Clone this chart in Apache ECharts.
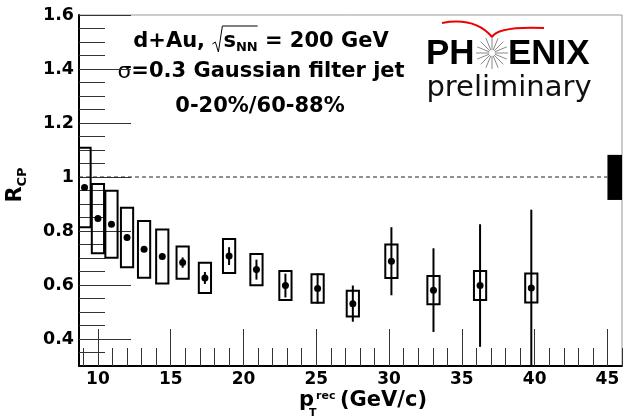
<!DOCTYPE html>
<html>
<head>
<meta charset="utf-8">
<script src="https://cdn.jsdelivr.net/npm/echarts@6.0.0/dist/echarts.min.js"></script>
<style>
html, body { margin: 0; padding: 0; background: #fff; }
#chart { width: 623px; height: 419px; }
</style>
</head>
<body>
<div id="chart"></div>
<script type="text/javascript">
// R_CP vs reconstructed jet pT, d+Au 200 GeV (PHENIX preliminary)
var ptRec   = [9.08, 10.0, 10.93, 12.0, 13.17, 14.42, 15.82, 17.35, 19.01, 20.89, 22.88, 25.09, 27.51, 30.16, 33.05, 36.25, 39.77];
var rcp     = [0.961, 0.846, 0.825, 0.776, 0.732, 0.706, 0.683, 0.626, 0.707, 0.657, 0.598, 0.587, 0.531, 0.688, 0.581, 0.598, 0.589];
var statErr = [0.005, 0.006, 0.007, 0.008, 0.009, 0.010, 0.019, 0.022, 0.033, 0.037, 0.044, 0.056, 0.067, 0.126, 0.155, 0.227, 0.29];
var sysErr  = [0.147, 0.128, 0.124, 0.110, 0.105, 0.100, 0.060, 0.056, 0.063, 0.058, 0.054, 0.053, 0.048, 0.062, 0.052, 0.054, 0.054];

var xMajorTicks = [10, 15, 20, 25, 30, 35, 40, 45];
var xMinorTicks = [9, 11, 12, 13, 14, 16, 17, 18, 19, 21, 22, 23, 24, 26, 27, 28, 29, 31, 32, 33, 34, 36, 37, 38, 39, 41, 42, 43, 44, 46];
var yMajorTicks = [0.4, 0.6, 0.8, 1.0, 1.2, 1.4, 1.6];
var yMinorTicks = [0.35, 0.45, 0.5, 0.55, 0.65, 0.7, 0.75, 0.85, 0.9, 0.95, 1.05, 1.1, 1.15, 1.25, 1.3, 1.35, 1.45, 1.5, 1.55];

var unityX = [8.7, 45];      // dashed line at R_CP = 1
var normBox = [45, 46, 0.915, 1.082]; // x0, x1, y0, y1 of global normalisation uncertainty

var boxHalf = 0.42;
var BOLD = 'bold 21px "DejaVu Sans"';
var SUB = 'bold 13px "DejaVu Sans"';

var myChart = echarts.init(document.getElementById('chart'), null, {renderer: 'canvas'});

var pts = [];
for (var i = 0; i < ptRec.length; i++) {
    pts.push([ptRec[i], rcp[i], statErr[i], sysErr[i]]);
}

function renderPoint(params, api) {
    var x = api.value(0), y = api.value(1), st = api.value(2), sy = api.value(3);
    var tl = api.coord([x - boxHalf, y + sy]);
    var br = api.coord([x + boxHalf, y - sy]);
    var c = api.coord([x, y]);
    var eTop = api.coord([x, y + st]);
    var eBot = api.coord([x, y - st]);
    return {
        type: 'group',
        children: [
            {type: 'rect', shape: {x: tl[0], y: tl[1], width: br[0] - tl[0], height: br[1] - tl[1]},
             style: {fill: 'none', stroke: '#000', lineWidth: 2}},
            {type: 'line', shape: {x1: c[0], y1: eTop[1], x2: c[0], y2: eBot[1]},
             style: {stroke: '#000', lineWidth: 2}},
            {type: 'circle', shape: {cx: c[0], cy: c[1], r: 3.5}, style: {fill: '#000'}}
        ]
    };
}

function renderNorm(params, api) {
    var a = api.coord([api.value(0), api.value(3)]);
    var b = api.coord([api.value(1), api.value(2)]);
    return {type: 'rect', shape: {x: a[0], y: a[1], width: b[0] - a[0], height: b[1] - a[1]}, style: {fill: '#000'}};
}

function fmtY(v) { return String(+(+v).toFixed(1)); }

// text width helper for laying out the first label line
var mctx = document.createElement('canvas').getContext('2d');
function tw(font, s) { mctx.font = font; return mctx.measureText(s).width; }

// first line: d+Au, sqrt(s_NN) = 200 GeV, centred at x=261
var w1 = tw(BOLD, 'd+Au, '), wRad = 11, wS = tw(BOLD, 's'), wNN = tw(SUB, 'NN'), w2 = tw(BOLD, ' = 200 GeV');
var x0 = 261 - (w1 + wRad + wS + wNN + w2) / 2;
var xRad = x0 + w1, xS = xRad + wRad, xNN = xS + wS, xEq = xNN + wNN;

// phenix sunburst
var rays = [];
for (var k = 0; k < 16; k++) {
    var ang = k * Math.PI / 8;
    rays.push({type: 'line', shape: {x1: 492 + 3 * Math.cos(ang), y1: 53 + 3 * Math.sin(ang),
        x2: 492 + 16 * Math.cos(ang), y2: 53 + 16 * Math.sin(ang)}, style: {stroke: '#888', lineWidth: 1}});
}

var option = {
    animation: false,
    grid: {left: 79, top: 15, width: 543, height: 351, show: true, borderColor: '#999', borderWidth: 1, backgroundColor: 'transparent'},
    xAxis: [
        {
            type: 'value', min: 8.7, max: 46, position: 'bottom',
            axisLine: {lineStyle: {color: '#000', width: 2}},
            axisTick: {inside: true, length: 37, customValues: xMajorTicks, lineStyle: {color: '#333', width: 1}},
            axisLabel: {customValues: xMajorTicks, margin: 5, color: '#000', fontFamily: 'DejaVu Sans', fontWeight: 'bold', fontSize: 17},
            splitLine: {show: false}
        },
        {
            type: 'value', min: 8.7, max: 46, position: 'bottom',
            axisLine: {show: false},
            axisTick: {inside: true, length: 18, customValues: xMinorTicks, lineStyle: {color: '#333', width: 1}},
            axisLabel: {show: false},
            splitLine: {show: false}
        }
    ],
    yAxis: [
        {
            type: 'value', min: 0.3, max: 1.6, position: 'left',
            axisLine: {lineStyle: {color: '#000', width: 2}},
            axisTick: {inside: true, length: 52, customValues: yMajorTicks, lineStyle: {color: '#333', width: 1}},
            axisLabel: {customValues: yMajorTicks, formatter: fmtY, margin: 5, color: '#000', fontFamily: 'DejaVu Sans', fontWeight: 'bold', fontSize: 17.5},
            splitLine: {show: false}
        },
        {
            type: 'value', min: 0.3, max: 1.6, position: 'left',
            axisLine: {show: false},
            axisTick: {inside: true, length: 26, customValues: yMinorTicks, lineStyle: {color: '#333', width: 1}},
            axisLabel: {show: false},
            splitLine: {show: false}
        }
    ],
    series: [
        {
            name: 'unity', type: 'line', xAxisIndex: 0, yAxisIndex: 0,
            data: [[unityX[0], 1], [unityX[1], 1]], symbol: 'none',
            lineStyle: {color: '#222', width: 1, type: [4, 3]}
        },
        {
            name: 'norm', type: 'custom', xAxisIndex: 0, yAxisIndex: 0,
            data: [normBox], renderItem: renderNorm, clip: true
        },
        {
            name: 'Rcp', type: 'custom', xAxisIndex: 0, yAxisIndex: 0,
            data: pts, renderItem: renderPoint, clip: true, z: 5
        }
    ],
    graphic: [
        {type: 'text', x: x0, y: 42, style: {text: 'd+Au,', font: BOLD, fill: '#000', verticalAlign: 'middle'}},
        {type: 'polyline', shape: {points: [[xRad, 44], [xRad + 3, 42], [xRad + 6, 52], [xRad + 10, 26], [xEq, 26]]},
         style: {stroke: '#000', lineWidth: 1, fill: 'none'}},
        {type: 'text', x: xS, y: 42, style: {text: 's', font: BOLD, fill: '#000', verticalAlign: 'middle'}},
        {type: 'text', x: xNN, y: 48, style: {text: 'NN', font: SUB, fill: '#000', verticalAlign: 'middle'}},
        {type: 'text', x: xEq, y: 42, style: {text: ' = 200 GeV', font: BOLD, fill: '#000', verticalAlign: 'middle'}},
        {type: 'text', x: 261, y: 72,
         style: {text: '{g|σ}{b|=0.3 Gaussian filter jet}', align: 'center', verticalAlign: 'middle',
                 rich: {g: {font: '22px "DejaVu Sans"', fill: '#000'}, b: {font: BOLD, fill: '#000'}}}},
        {type: 'text', x: 260, y: 107,
         style: {text: '0-20%/60-88%', align: 'center', verticalAlign: 'middle', font: BOLD, fill: '#000'}},

        // PHENIX logo
        {type: 'text', x: 426, y: 54, style: {text: 'PH', font: 'bold 35px "Liberation Sans"', fill: '#000', verticalAlign: 'middle'}},
        {type: 'text', x: 508, y: 54, style: {text: 'ENIX', font: 'bold 35px "Liberation Sans"', fill: '#000', verticalAlign: 'middle'}},
        {type: 'group', children: rays},
        {type: 'bezierCurve', shape: {x1: 442, y1: 23, cpx1: 475, cpy1: 17, x2: 492, y2: 37}, style: {stroke: '#e00', lineWidth: 2, fill: 'none'}},
        {type: 'bezierCurve', shape: {x1: 492, y1: 37, cpx1: 498, cpy1: 26, x2: 544, y2: 28}, style: {stroke: '#e00', lineWidth: 2, fill: 'none'}},
        {type: 'text', x: 509, y: 88, style: {text: 'preliminary', align: 'center', verticalAlign: 'middle', font: '29px "DejaVu Sans"', fill: '#111'}},

        // y title
        {type: 'text', x: 17, y: 185, rotation: Math.PI / 2,
         style: {text: '{r|R}{s|CP}', align: 'center', verticalAlign: 'middle',
                 rich: {r: {font: BOLD, fill: '#000', lineHeight: 24, verticalAlign: 'top'},
                        s: {font: SUB, fill: '#000', lineHeight: 24, verticalAlign: 'bottom'}}}},

        // x title
        {type: 'text', x: 299, y: 401, style: {text: 'p', font: BOLD, fill: '#000', verticalAlign: 'middle'}},
        {type: 'text', x: 309, y: 413, style: {text: 'T', font: 'bold 11px "DejaVu Sans"', fill: '#000', verticalAlign: 'middle'}},
        {type: 'text', x: 316, y: 396, style: {text: 'rec', font: 'bold 11px "DejaVu Sans"', fill: '#000', verticalAlign: 'middle'}},
        {type: 'text', x: 340, y: 401, style: {text: '(GeV/c)', font: BOLD, fill: '#000', verticalAlign: 'middle'}}
    ]
};

myChart.setOption(option);
</script>
</body>
</html>
